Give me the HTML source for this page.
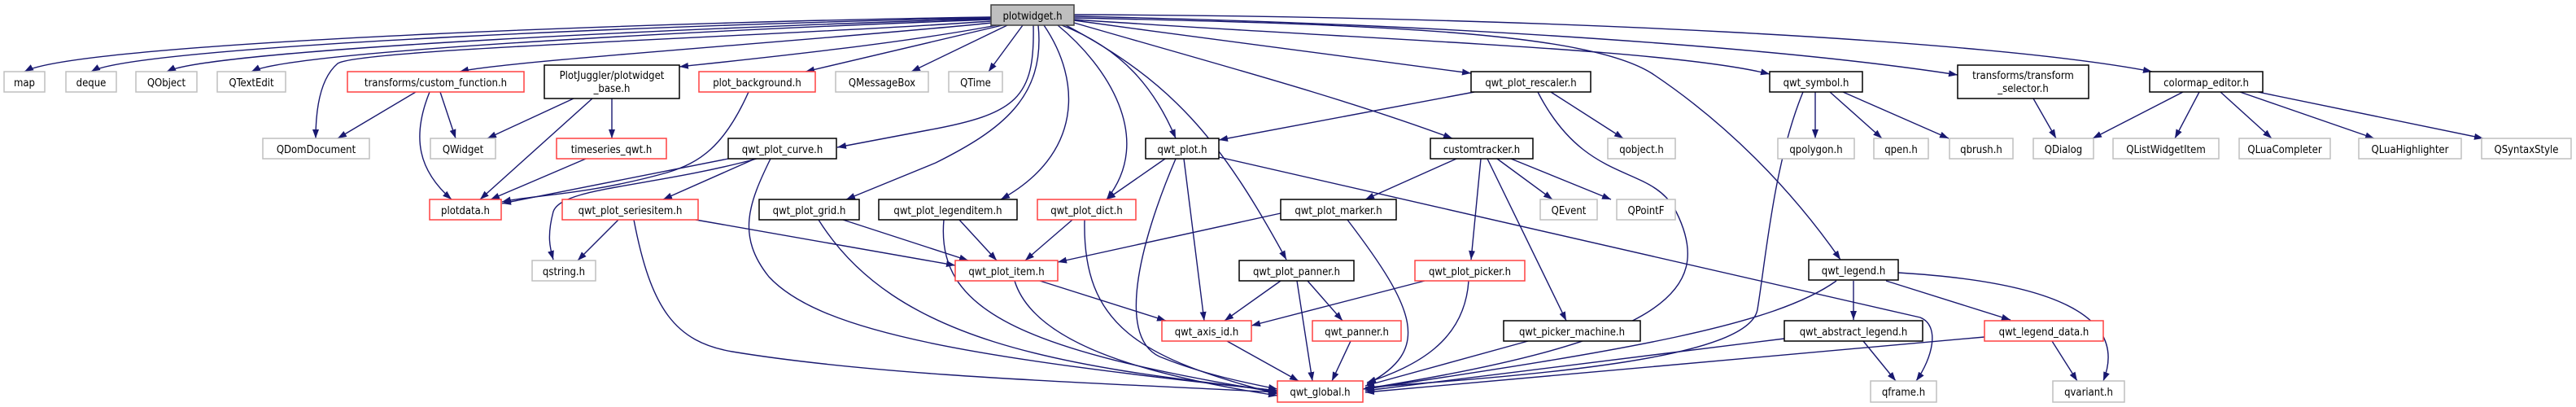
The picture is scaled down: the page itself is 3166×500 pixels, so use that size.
<!DOCTYPE html>
<html><head><meta charset="utf-8"><style>
html,body{margin:0;padding:0;background:#fff;}
svg{display:block;}
text{font-family:"DejaVu Sans Condensed","DejaVu Sans","Liberation Sans",sans-serif;font-size:13px;fill:#000;text-anchor:middle;}
.e{fill:none;stroke:#191970;stroke-width:1.4;marker-end:url(#a);}
.g{fill:#fff;stroke:#bfbfbf;stroke-width:1.5;}
.r{fill:#fff;stroke:#ff4040;stroke-width:1.5;}
.b{fill:#fff;stroke:#000;stroke-width:1.5;}
.m{fill:#bfbfbf;stroke:#404040;stroke-width:1.5;}
</style></head><body>
<svg width="3166" height="500" viewBox="0 0 3166 500" xmlns="http://www.w3.org/2000/svg">
<defs><marker id="a" markerUnits="userSpaceOnUse" markerWidth="12" markerHeight="9" refX="11" refY="4" orient="auto"><path d="M0,0 L11,4 L0,8 z" fill="#191970"/></marker></defs>
<g>
<!-- plotwidget edges -->
<path class="e" d="M1218,21 C900,25 100,50 30,88"/>
<path class="e" d="M1218,22 C900,28 170,55 112,88"/>
<path class="e" d="M1218,23 C900,32 260,60 205,88"/>
<path class="e" d="M1218,24 C900,36 360,62 309,88"/>
<path class="e" d="M1218,26 C950,45 440,60 415,78 C395,95 388,130 388,170"/>
<path class="e" d="M1220,28 C1000,50 620,75 565,88"/>
<path class="e" d="M1225,31 C1100,55 900,75 835,82"/>
<path class="e" d="M1232,31 L990,88"/>
<path class="e" d="M1238,31 L1120,88"/>
<path class="e" d="M1257,31 L1215,88"/>
<path class="e" d="M1270,31 C1272,120 1250,140 1140,160 L1029,181"/>
<path class="e" d="M1276,31 C1285,120 1230,160 1150,200 L1040,245"/>
<path class="e" d="M1283,31 C1330,100 1330,190 1230,245"/>
<path class="e" d="M1300,31 C1360,80 1420,170 1360,245"/>
<path class="e" d="M1305,31 C1380,60 1420,110 1445,170"/>
<path class="e" d="M1310,31 C1440,100 1500,170 1581,319"/>
<path class="e" d="M1320,28 C1500,80 1650,120 1785,170"/>
<path class="e" d="M1320,25 C1500,50 1700,75 1808,90"/>
<path class="e" d="M1320,22 C1700,30 1950,40 2030,90 C2120,150 2200,230 2262,319"/>
<path class="e" d="M1320,24 C1700,50 2050,60 2175,91"/>
<path class="e" d="M1320,20 C1800,30 2200,60 2406,92"/>
<path class="e" d="M1320,18 C1900,20 2450,50 2645,88"/>
<!-- others -->
<path class="e" d="M511,113 L415,170"/>
<path class="e" d="M541,113 L560,170"/>
<path class="e" d="M528,113 C505,170 515,210 555,245"/>
<path class="e" d="M705,121 L599,170"/>
<path class="e" d="M728,121 L590,245"/>
<path class="e" d="M752,121 L752,170"/>
<path class="e" d="M720,195 L603,245"/>
<path class="e" d="M920,113 C890,180 860,200 820,212 C720,240 650,240 617,248"/>
<path class="e" d="M895,195 L617,250"/>
<path class="e" d="M930,195 C800,230 690,230 680,260 C672,290 676,305 680,319"/>
<path class="e" d="M928,195 L815,245"/>
<path class="e" d="M947,195 C920,250 905,290 945,340 C1010,410 1200,440 1570,480"/>
<path class="e" d="M760,270 L710,320"/>
<path class="e" d="M855,270 L1174,326"/>
<path class="e" d="M779,270 C800,380 830,420 900,432 C1100,465 1400,472 1570,482"/>
<path class="e" d="M1036,270 L1190,320"/>
<path class="e" d="M1006,270 C1100,420 1300,450 1570,480"/>
<path class="e" d="M1179,270 L1225,320"/>
<path class="e" d="M1160,270 C1150,380 1250,430 1570,482"/>
<path class="e" d="M1318,270 L1260,320"/>
<path class="e" d="M1333,270 C1330,400 1400,440 1570,484"/>
<path class="e" d="M1278,345 L1433,394"/>
<path class="e" d="M1247,345 C1270,420 1400,460 1570,486"/>
<path class="e" d="M1432,195 L1360,245"/>
<path class="e" d="M1455,195 L1480,394"/>
<path class="e" d="M1445,195 C1400,300 1370,420 1430,440 C1480,460 1530,470 1570,478"/>
<path class="e" d="M1498,193 L2360,390 C2385,400 2375,440 2355,468"/>
<path class="e" d="M1812,113 L1498,172"/>
<path class="e" d="M1906,113 L1995,170"/>
<path class="e" d="M1890,113 C1950,230 2030,200 2060,260 C2110,360 2040,420 1675,478"/>
<path class="e" d="M1790,195 L1678,245"/>
<path class="e" d="M1820,195 L1808,319"/>
<path class="e" d="M1840,195 L1908,245"/>
<path class="e" d="M1857,195 L1980,245"/>
<path class="e" d="M1828,195 L1925,394"/>
<path class="e" d="M1574,262 L1300,322"/>
<path class="e" d="M1656,270 C1740,380 1760,430 1680,472"/>
<path class="e" d="M1574,345 L1505,394"/>
<path class="e" d="M1607,345 L1650,394"/>
<path class="e" d="M1594,345 L1613,468"/>
<path class="e" d="M1751,345 L1538,400"/>
<path class="e" d="M1805,345 C1800,420 1740,450 1680,470"/>
<path class="e" d="M1508,419 L1596,468"/>
<path class="e" d="M1660,419 L1637,468"/>
<path class="e" d="M1878,419 L1678,474"/>
<path class="e" d="M2231,113 L2231,170"/>
<path class="e" d="M2249,113 L2313,170"/>
<path class="e" d="M2265,113 L2395,170"/>
<path class="e" d="M2216,113 C2180,200 2170,320 2160,380 C2150,440 1900,460 1678,476"/>
<path class="e" d="M2499,121 L2527,170"/>
<path class="e" d="M2683,113 L2572,170"/>
<path class="e" d="M2703,113 L2673,170"/>
<path class="e" d="M2729,113 L2792,170"/>
<path class="e" d="M2753,113 L2918,170"/>
<path class="e" d="M2775,113 L3052,170"/>
<path class="e" d="M2278,345 L2278,393"/>
<path class="e" d="M2318,345 L2471,393"/>
<path class="e" d="M2333,335 C2500,345 2620,380 2585,468"/>
<path class="e" d="M2257,345 C2180,400 2000,430 1678,478"/>
<path class="e" d="M2290,419 L2330,468"/>
<path class="e" d="M2193,416 L1678,480"/>
<path class="e" d="M2522,419 L2553,468"/>
<path class="e" d="M2439,414 L1678,482"/>
</g>
<g>
<rect class="m" x="1218" y="6" width="102" height="25"/><text x="1269" y="24">plotwidget.h</text>

<rect class="g" x="5" y="88" width="50" height="25"/><text x="30" y="106">map</text>
<rect class="g" x="81" y="88" width="62" height="25"/><text x="112" y="106">deque</text>
<rect class="g" x="167" y="88" width="75" height="25"/><text x="204.5" y="106">QObject</text>
<rect class="g" x="267" y="88" width="84" height="25"/><text x="309" y="106">QTextEdit</text>
<rect class="r" x="427" y="88" width="217" height="25"/><text x="535.5" y="106">transforms/custom_function.h</text>
<rect class="b" x="669" y="80" width="166" height="41"/><text x="752" y="97">PlotJuggler/plotwidget</text><text x="752" y="113">_base.h</text>
<rect class="r" x="859" y="88" width="143" height="25"/><text x="930.5" y="106">plot_background.h</text>
<rect class="g" x="1027" y="88" width="114" height="25"/><text x="1084" y="106">QMessageBox</text>
<rect class="g" x="1166" y="88" width="66" height="25"/><text x="1199" y="106">QTime</text>
<rect class="b" x="1808" y="88" width="147" height="25"/><text x="1881.5" y="106">qwt_plot_rescaler.h</text>
<rect class="b" x="2175" y="88" width="114" height="25"/><text x="2232" y="106">qwt_symbol.h</text>
<rect class="b" x="2406" y="80" width="161" height="41"/><text x="2486.5" y="97">transforms/transform</text><text x="2486.5" y="113">_selector.h</text>
<rect class="b" x="2642" y="88" width="139" height="25"/><text x="2711.5" y="106">colormap_editor.h</text>

<rect class="g" x="323" y="170" width="131" height="25"/><text x="388.5" y="188">QDomDocument</text>
<rect class="g" x="529" y="170" width="80" height="25"/><text x="569" y="188">QWidget</text>
<rect class="r" x="684" y="170" width="135" height="25"/><text x="751.5" y="188">timeseries_qwt.h</text>
<rect class="b" x="895" y="170" width="133" height="25"/><text x="961.5" y="188">qwt_plot_curve.h</text>
<rect class="b" x="1408" y="170" width="90" height="25"/><text x="1453" y="188">qwt_plot.h</text>
<rect class="b" x="1758" y="170" width="126" height="25"/><text x="1821" y="188">customtracker.h</text>
<rect class="g" x="1976" y="170" width="83" height="25"/><text x="2017.5" y="188">qobject.h</text>
<rect class="g" x="2185" y="170" width="94" height="25"/><text x="2232" y="188">qpolygon.h</text>
<rect class="g" x="2303" y="170" width="67" height="25"/><text x="2336.5" y="188">qpen.h</text>
<rect class="g" x="2396" y="170" width="78" height="25"/><text x="2435" y="188">qbrush.h</text>
<rect class="g" x="2499" y="170" width="74" height="25"/><text x="2536" y="188">QDialog</text>
<rect class="g" x="2597" y="170" width="130" height="25"/><text x="2662" y="188">QListWidgetItem</text>
<rect class="g" x="2752" y="170" width="112" height="25"/><text x="2808" y="188">QLuaCompleter</text>
<rect class="g" x="2899" y="170" width="126" height="25"/><text x="2962" y="188">QLuaHighlighter</text>
<rect class="g" x="3050" y="170" width="110" height="25"/><text x="3105" y="188">QSyntaxStyle</text>

<rect class="r" x="528" y="245" width="88" height="25"/><text x="572" y="263">plotdata.h</text>
<rect class="r" x="691" y="245" width="167" height="25"/><text x="774.5" y="263">qwt_plot_seriesitem.h</text>
<rect class="b" x="933" y="245" width="123" height="25"/><text x="994.5" y="263">qwt_plot_grid.h</text>
<rect class="b" x="1080" y="245" width="170" height="25"/><text x="1165" y="263">qwt_plot_legenditem.h</text>
<rect class="r" x="1275" y="245" width="121" height="25"/><text x="1335.5" y="263">qwt_plot_dict.h</text>
<rect class="b" x="1574" y="245" width="142" height="25"/><text x="1645" y="263">qwt_plot_marker.h</text>
<rect class="g" x="1893" y="245" width="70" height="25"/><text x="1928" y="263">QEvent</text>
<rect class="g" x="1987" y="245" width="72" height="25"/><text x="2023" y="263">QPointF</text>

<rect class="g" x="654" y="320" width="78" height="25"/><text x="693" y="338">qstring.h</text>
<rect class="r" x="1174" y="320" width="126" height="25"/><text x="1237" y="338">qwt_plot_item.h</text>
<rect class="b" x="1523" y="320" width="141" height="25"/><text x="1593.5" y="338">qwt_plot_panner.h</text>
<rect class="r" x="1739" y="320" width="135" height="25"/><text x="1806.5" y="338">qwt_plot_picker.h</text>
<rect class="b" x="2223" y="319" width="110" height="25"/><text x="2278" y="337">qwt_legend.h</text>

<rect class="r" x="1428" y="394" width="110" height="25"/><text x="1483" y="412">qwt_axis_id.h</text>
<rect class="r" x="1613" y="394" width="109" height="25"/><text x="1667.5" y="412">qwt_panner.h</text>
<rect class="b" x="1848" y="394" width="168" height="25"/><text x="1932" y="412">qwt_picker_machine.h</text>
<rect class="b" x="2193" y="394" width="170" height="25"/><text x="2278" y="412">qwt_abstract_legend.h</text>
<rect class="r" x="2439" y="394" width="146" height="25"/><text x="2512" y="412">qwt_legend_data.h</text>

<rect class="r" x="1570" y="468" width="105" height="26"/><text x="1622.5" y="486">qwt_global.h</text>
<rect class="g" x="2299" y="468" width="81" height="26"/><text x="2339.5" y="486">qframe.h</text>
<rect class="g" x="2523" y="468" width="88" height="26"/><text x="2567" y="486">qvariant.h</text>
</g>
</svg>
</body></html>
